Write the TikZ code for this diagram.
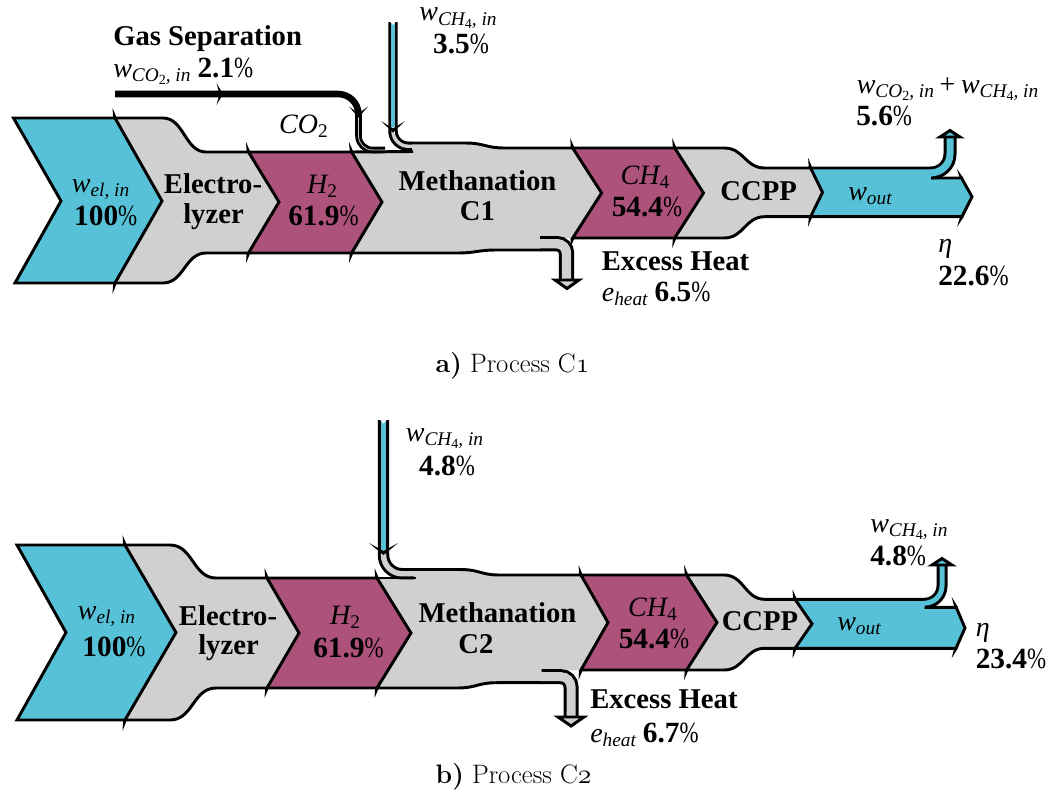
\documentclass[tikz,border=0pt]{standalone}
\usepackage{fontspec}
\usepackage{graphicx}
\newfontfamily\tnr{Liberation Serif}
\definecolor{cblue}{RGB}{87,194,215}
\definecolor{cmag}{RGB}{173,82,122}
\definecolor{cgray}{RGB}{208,208,208}
\newcommand\lsub[1]{\raisebox{-0.15em}{\fontsize{14.5}{15}\selectfont #1}}
\newcommand\lssub[1]{\raisebox{-0.18em}{\fontsize{10.5}{11}\selectfont\upshape #1}}
\newcommand\nmb[1]{{\upshape\fontsize{22}{24}\selectfont\textbf{#1}\scalebox{0.78}[1]{\%}}}
\newcommand\osf[1]{{\fontencoding{OML}\fontfamily{cmm}\fontseries{m}\fontshape{it}\selectfont #1}}
\newcommand\spk[4]{\fill[black] ({#1-1.8},#2) -- ({#1+1.8},#2) -- (#3,#4) -- cycle;}
\tikzset{
  ol/.style={draw=black, line width=2.2pt, line join=miter},
  lb/.style={font=\tnr\bfseries\fontsize{21.5}{24}\selectfont, inner sep=0pt, anchor=base},
  nb/.style={font=\tnr\fontsize{22}{24}\selectfont, inner sep=0pt, anchor=base},
  vb/.style={font=\tnr\itshape\fontsize{21}{23}\selectfont, inner sep=0pt, anchor=base},
  capt/.style={font=\fontsize{20}{24}\selectfont, inner sep=0pt, anchor=base},
}
\begin{document}
\begin{tikzpicture}[x=0.75pt,y=-0.75pt]
\useasboundingbox (0,0) rectangle (1053,796);

% ================= (a) =================
% Electrolyzer
\fill[cgray] (115,118) -- (163,118) .. controls (184,118) and (185,152) .. (206,152) -- (248.5,152) -- (279,202) -- (248.5,253) -- (206,253) .. controls (185,253) and (184,283) .. (163,283) -- (115,283) -- (162,201) -- cycle;
\draw[ol] (115,118) -- (163,118) .. controls (184,118) and (185,152) .. (206,152) -- (248.5,152);
\draw[ol] (115,283) -- (163,283) .. controls (184,283) and (185,253) .. (206,253) -- (248.5,253);
% Methanation
\fill[cgray] (351.6,152) -- (412,151) -- (412,143) -- (465,143) .. controls (485,143) and (485,148) .. (505,148) -- (572.7,148) -- (601.6,193) -- (572.7,238) -- (557,238) -- (550,244) -- (540,250) -- (497,250) .. controls (477,250) and (477,253) .. (457,253) -- (351.6,253) -- (382,202) -- cycle;
\draw[ol] (351.6,152) -- (413,151.5);
\draw[ol] (410,143) -- (465,143) .. controls (485,143) and (485,148) .. (505,148) -- (572.7,148);
\draw[ol] (351.6,253) -- (457,253) .. controls (477,253) and (477,250) .. (497,250) -- (541,250);
% Excess heat branch
\draw[line width=11.6pt] (540,243.75) -- (557,243.75) .. controls (562.25,243.75) and (566.5,248) .. (566.5,253.25) -- (566.5,280);
\draw[cgray, line width=7.1pt] (539,243.75) -- (557,243.75) .. controls (562.25,243.75) and (566.5,248) .. (566.5,253.25) -- (566.5,281);
\filldraw[fill=cgray, ol] (555,280) -- (579,280) -- (567,288.5) -- cycle;
% CCPP
\fill[cgray] (674.7,148) -- (724,148) .. controls (744,148) and (745,168) .. (764.7,168) -- (810.6,168) -- (822.5,192.4) -- (810.6,216.7) -- (764.7,216.7) .. controls (745,216.7) and (744,238) .. (724,238) -- (674.7,238) -- (703.5,193) -- cycle;
\draw[ol] (674.7,148) -- (724,148) .. controls (744,148) and (745,168) .. (764.7,168) -- (810.6,168);
\draw[ol] (674.7,238) -- (724,238) .. controls (744,238) and (745,216.7) .. (764.7,216.7) -- (810.6,216.7);
% chevrons
\filldraw[fill=cblue, ol] (13.5,118) -- (115,118) -- (162,201) -- (115,283) -- (15,283) -- (61,201) -- cycle;
\filldraw[fill=cmag, ol] (248.5,152) -- (351.6,152) -- (382,202) -- (351.6,253) -- (248.5,253) -- (279,202) -- cycle;
\filldraw[fill=cmag, ol] (572.7,148) -- (674.7,148) -- (703.5,193) -- (674.7,238) -- (572.7,238) -- (601.6,193) -- cycle;
% w_out
\fill[cblue] (810.6,168) -- (931,168) -- (931,178) -- (961.5,178) -- (972,196.7) -- (962,216.7) -- (810.6,216.7) -- (822.5,192.4) -- cycle;
\draw[ol] (931,168) -- (810.6,168) -- (822.5,192.4) -- (810.6,216.7) -- (962,216.7) -- (972,196.7) -- (961.5,178) -- (931,178);
% exhaust
\draw[line width=9.75pt] (931,173) .. controls (941.5,173) and (950,164.5) .. (950,154) -- (950,137);
\draw[cblue, line width=5.25pt] (930,173) .. controls (941.5,173) and (950,164.5) .. (950,154) -- (950,136);
\filldraw[fill=cblue, ol] (940,137) -- (960,137) -- (950,130.5) -- cycle;
% CH4 input
\draw[line width=7.1pt] (393,22) -- (393,131) .. controls (393,139.4) and (399.8,146.25) .. (408.25,146.25) -- (412,146.25);
\draw[cblue, line width=2.6pt] (393,22) -- (393,128);
\draw[cgray, line width=2.6pt] (393,127) -- (393,131) .. controls (393,139.4) and (399.8,146.25) .. (408.25,146.25) -- (413,146.25);
\fill[white] (390.3,21.9) -- (395.7,21.9) -- (393,25) -- cycle;
\fill (381,121) -- (393,128.5) -- (405,121) -- (393,132.5) -- cycle;
% CO2 input
\draw[line width=4.9pt] (115,94) -- (338,94) .. controls (349.3,94) and (358.5,103.2) .. (358.5,114.5) -- (358.5,136) .. controls (358.5,143.7) and (364.8,150) .. (372.5,150) -- (385,150);
\draw[cgray, line width=0.6pt] (358.5,115) -- (358.5,136) .. controls (358.5,143.7) and (364.8,150) .. (372.5,150) -- (385,150);
\fill (216.5,83) -- (223,94) -- (216.5,105) -- (219.5,94) -- cycle;
\fill (349,106.5) -- (358.5,113.5) -- (368,106.5) -- (358.5,117.5) -- cycle;
% spikes
\spk{115}{118}{112.5}{108}
\spk{115}{283}{112.5}{294}
\spk{248.5}{152}{246}{142}
\spk{248.5}{253}{246}{263}
\spk{351.6}{152}{349}{142}
\spk{351.6}{253}{349}{263}
\spk{572.7}{148}{570.2}{138}
\spk{572.7}{238}{570.2}{248}
\spk{674.7}{148}{672.2}{138}
\spk{674.7}{238}{672.2}{248}
\spk{810.6}{168}{808.1}{158}
\spk{810.6}{216.7}{808.1}{226.7}
\spk{961.5}{178}{957}{169}
\spk{962}{216.7}{957}{227}
% labels (a)
\node[lb, anchor=base west] (gs) at (113,45) {Gas Separation};
\node[vb, anchor=base west] (wco2) at (113,77) {w\lsub{CO\lssub{2}, in} \nmb{2.1}};
\node[vb] (wch4a) at (458,21) {w\lsub{CH\lssub{4}, in}};
\node[nb] (p35) at (461,53) {\nmb{3.5}};
\node[vb] (co2) at (303.5,133) {CO\lsub{\upshape 2}};
\node[vb] (wel) at (100.6,192) {w\lsub{el, in}};
\node[nb] (p100) at (105.7,225) {\nmb{100}};
\node[lb] (ela1) at (213,193) {Electro-};
\node[lb] (ela2) at (213.5,223) {lyzer};
\node[vb] (h2a) at (322,193) {H\lsub{\upshape 2}};
\node[nb] (p619a) at (323.5,225) {\nmb{61.9}};
\node[lb] (mea1) at (477.5,190) {Methanation};
\node[lb] (mea2) at (477.5,220) {C1};
\node[vb] (ch4a) at (645,184) {CH\lsub{\upshape 4}};
\node[nb] (p544a) at (647,216) {\nmb{54.4}};
\node[lb] (ccpa) at (758.7,200) {CCPP};
\node[vb] (wouta) at (870,200) {w\lsub{out}};
\node[vb, anchor=base west] (wsum) at (856.5,93) {w\lsub{CO\lssub{2}, in}\hspace{0.2em}{\upshape +}\hspace{0.2em}w\lsub{CH\lssub{4}, in}};
\node[nb, anchor=base west] (p56) at (856,125) {\nmb{5.6}};
\node[vb, anchor=base west] (etaa) at (938,252) {η};
\node[nb, anchor=base west] (p226) at (938,285) {\nmb{22.6}};
\node[lb, anchor=base west] (exa) at (601.6,270) {Excess Heat};
\node[vb, anchor=base west] (eha) at (601.6,301) {e\lsub{heat} \nmb{6.5}};
\node[capt] (capa) at (512.5,372) {\textbf{a)} Process C\osf{1}};

% ================= (b) =================
% Electrolyzer
\fill[cgray] (125,545) -- (170,545) .. controls (193,545) and (193,578) .. (216,578) -- (267,578) -- (299,633) -- (267,688) -- (216,688) .. controls (193,688) and (193,720) .. (170,720) -- (125,720) -- (176,632.5) -- cycle;
\draw[ol] (125,545) -- (170,545) .. controls (193,545) and (193,578) .. (216,578) -- (267,578);
\draw[ol] (125,720) -- (170,720) .. controls (193,720) and (193,688) .. (216,688) -- (267,688);
% Methanation
\fill[cgray] (377,578) -- (414,578) -- (414,569.5) -- (460,569.5) .. controls (480,569.5) and (480,575) .. (500,575) -- (581,575) -- (608,622.5) -- (581,670) -- (561,670.7) -- (550,677) -- (541.7,682.7) -- (497,682.7) .. controls (477,682.7) and (477,688) .. (457,688) -- (377,688) -- (411,633) -- cycle;
\draw[ol] (377,578) -- (416,578);
\draw[ol] (412,569.5) -- (460,569.5) .. controls (480,569.5) and (480,575) .. (500,575) -- (581,575);
\draw[ol] (377,688) -- (457,688) .. controls (477,688) and (477,682.7) .. (497,682.7) -- (542.7,682.7);
% Excess heat branch
\draw[line width=11.25pt] (541.7,676.7) -- (561,676.7) .. controls (566.5,676.7) and (571,681.2) .. (571,686.7) -- (571,717);
\draw[cgray, line width=6.75pt] (540.7,676.7) -- (561,676.7) .. controls (566.5,676.7) and (571,681.2) .. (571,686.7) -- (571,718);
\filldraw[fill=cgray, ol] (558,717) -- (584,717) -- (571,726) -- cycle;
% CCPP
\fill[cgray] (686.6,575) -- (724,575) .. controls (744,575) and (745,599.3) .. (764.7,599.3) -- (795,599.3) -- (812,623.8) -- (795,648.3) -- (764.7,648.3) .. controls (745,648.3) and (744,670) .. (724,670) -- (686.6,670) -- (717,622.5) -- cycle;
\draw[ol] (686.6,575) -- (724,575) .. controls (744,575) and (745,599.3) .. (764.7,599.3) -- (795,599.3);
\draw[ol] (686.6,670) -- (724,670) .. controls (744,670) and (745,648.3) .. (764.7,648.3) -- (795,648.3);
% chevrons
\filldraw[fill=cblue, ol] (17,545) -- (125,545) -- (176,632.5) -- (125,720) -- (17,720) -- (66,632.5) -- cycle;
\filldraw[fill=cmag, ol] (267,578) -- (377,578) -- (411,633) -- (377,688) -- (267,688) -- (299,633) -- cycle;
\filldraw[fill=cmag, ol] (581,575) -- (686.6,575) -- (717,622.5) -- (686.6,670) -- (581,670) -- (608,622.5) -- cycle;
% w_out
\fill[cblue] (795,599.3) -- (924.5,599.3) -- (924.5,607.3) -- (956.2,607.3) -- (965,628) -- (956,648.3) -- (795,648.3) -- (812,623.8) -- cycle;
\draw[ol] (924.5,599.3) -- (795,599.3) -- (812,623.8) -- (795,648.3) -- (956,648.3) -- (965,628) -- (956.2,607.3) -- (924.5,607.3);
% exhaust
\draw[line width=8.25pt] (924.5,603.3) .. controls (934.2,603.3) and (942,595.5) .. (942,585.8) -- (942,565);
\draw[cblue, line width=3.75pt] (923.5,603.3) .. controls (934.2,603.3) and (942,595.5) .. (942,585.8) -- (942,564);
\filldraw[fill=cblue, ol] (932,565) -- (952,565) -- (942,558.5) -- cycle;
% CH4 input
\draw[line width=8.6pt] (383.5,420) -- (383.5,555) .. controls (383.5,565.2) and (391.8,573.75) .. (402,573.75) -- (414,573.75);
\draw[cblue, line width=4.1pt] (383.5,420) -- (383.5,551);
\draw[cgray, line width=4.1pt] (383.5,550) -- (383.5,555) .. controls (383.5,565.2) and (391.8,573.75) .. (402,573.75) -- (415,573.75);
\fill[white] (380.3,419.9) -- (386.7,419.9) -- (383.5,423.5) -- cycle;
\fill (369,543) -- (383.5,551) -- (398,543) -- (383.5,555) -- cycle;
% spikes
\spk{125}{545}{122.5}{535}
\spk{125}{720}{122.5}{731}
\spk{267}{578}{264.5}{568}
\spk{267}{688}{264.5}{698}
\spk{377}{578}{374.5}{568}
\spk{377}{688}{374.5}{698}
\spk{581}{575}{578.5}{565}
\spk{581}{670}{578.5}{680}
\spk{686.6}{575}{684.1}{565}
\spk{686.6}{670}{684.1}{680}
\spk{795}{599.3}{792.5}{589.3}
\spk{795}{648.3}{792.5}{658.3}
\spk{956.2}{607.3}{951.7}{597}
\spk{956}{648.3}{951.7}{658}
% labels (b)
\node[vb] (wch4b) at (444.5,441) {w\lsub{CH\lssub{4}, in}};
\node[nb] (p48a) at (447,475) {\nmb{4.8}};
\node[vb] (welb) at (106.5,619) {w\lsub{el, in}};
\node[nb] (p100b) at (114,656) {\nmb{100}};
\node[lb] (elb1) at (228,625) {Electro-};
\node[lb] (elb2) at (228.5,654) {lyzer};
\node[vb] (h2b) at (345,624) {H\lsub{\upshape 2}};
\node[nb] (p619b) at (348.5,657) {\nmb{61.9}};
\node[lb] (meb1) at (497.5,622) {Methanation};
\node[lb] (meb2) at (476,653) {C2};
\node[vb] (ch4b) at (652.5,616) {CH\lsub{\upshape 4}};
\node[nb] (p544b) at (654,648) {\nmb{54.4}};
\node[lb] (ccpb) at (760,630) {CCPP};
\node[vb] (woutb) at (859,630) {w\lsub{out}};
\node[vb, anchor=base west] (wch4c) at (870,532) {w\lsub{CH\lssub{4}, in}};
\node[nb, anchor=base west] (p48b) at (870,565) {\nmb{4.8}};
\node[vb, anchor=base west] (etab) at (975.5,636) {η};
\node[nb, anchor=base west] (p234) at (975.5,668) {\nmb{23.4}};
\node[lb, anchor=base west] (exb) at (590,708) {Excess Heat};
\node[vb, anchor=base west] (ehb) at (590,742) {e\lsub{heat} \nmb{6.7}};
\node[capt] (capb) at (513.5,783) {\textbf{b)} Process C\osf{2}};
\end{tikzpicture}
\end{document}
